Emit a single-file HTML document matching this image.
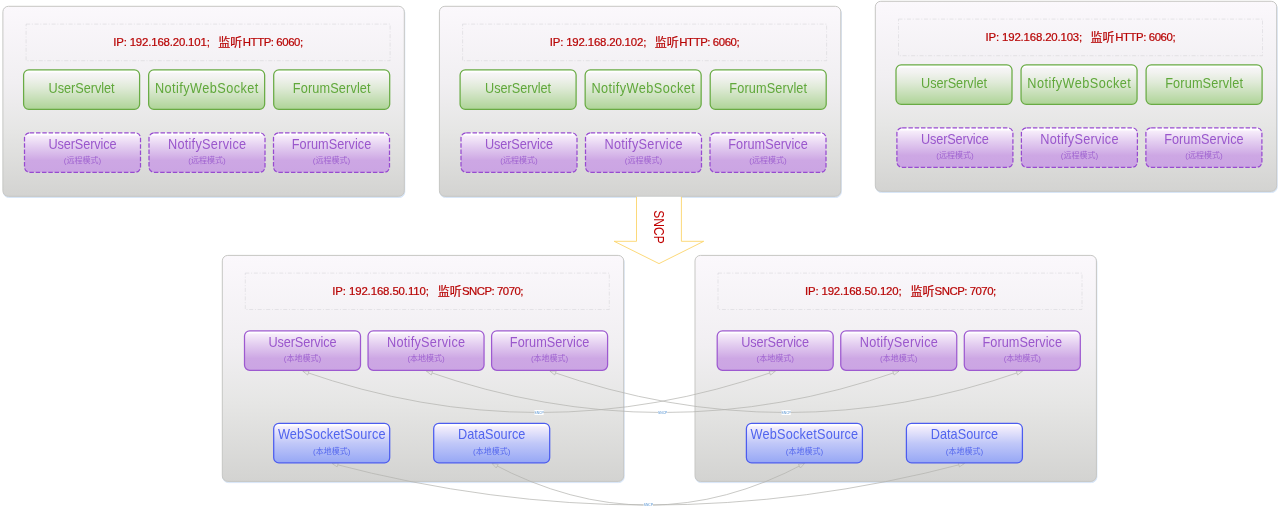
<!DOCTYPE html>
<html lang="zh">
<head>
<meta charset="utf-8">
<title>SNCP</title>
<style>
html,body{margin:0;padding:0;background:#fff;}
body{width:1280px;height:519px;overflow:hidden;}
svg{display:block;will-change:transform;}
text{font-family:"Liberation Sans","Noto Sans CJK SC",sans-serif;}
.sh{fill:#cfe0f6;stroke:#cfe0f6;stroke-width:1;opacity:.8;}
.panel{fill:url(#gp);stroke:#c7c7c4;stroke-width:1;}
.info{fill:none;stroke:#c9c9cf;stroke-opacity:.6;stroke-width:.7;stroke-dasharray:4 1.75 1 1.75;}
.t{fill:#b80606;stroke:#b80606;stroke-width:.22;font-size:11.4px;}
.c{font-size:12px;}
.n{font-size:13.9px;text-anchor:middle;}
.s{font-size:8px;text-anchor:middle;}
.g{fill:url(#gg);stroke:#69ab44;stroke-width:1.25;}
.p{fill:url(#gv);stroke:#9d59d0;stroke-width:1.25;}
.d{stroke:#974bd0;stroke-dasharray:4.5 1.8;}
.b{fill:url(#gb);stroke:#4c5cef;stroke-width:1.25;}
.gt{fill:#60a83b;}
.pt{fill:#9a57cc;}
.ps{fill:#9f63d0;}
.bt{fill:#5164ee;}
.bs{fill:#5669ee;}
.arrow{fill:#fff;stroke:#fcd262;stroke-width:.85;}
.at{fill:#c00000;font-size:14px;}
.ln{fill:none;stroke:#b2b2ae;stroke-width:.7;}
.ah{stroke:#b4b4b0;stroke-width:.7;stroke-linejoin:miter;}
.lb{fill:#fff;}
.lt{fill:#4f8fd0;font-size:3.3px;text-anchor:middle;}
</style>
</head>
<body>
<svg width="1280" height="519" viewBox="0 0 1280 519">
<defs>
<linearGradient id="gp" x1="0" y1="0" x2="0" y2="1"><stop offset="0" stop-color="#fbf8fc"/><stop offset=".4" stop-color="#f1eff2"/><stop offset=".65" stop-color="#e6e6e5"/><stop offset="1" stop-color="#d3d3d1"/></linearGradient>
<linearGradient id="gg" x1="0" y1="0" x2="0" y2="1"><stop offset="0" stop-color="#fff"/><stop offset=".045" stop-color="#fff"/><stop offset=".09" stop-color="#f6f5f6"/><stop offset=".2" stop-color="#f1f2ef"/><stop offset=".45" stop-color="#dfead7"/><stop offset="1" stop-color="#aed497"/></linearGradient>
<linearGradient id="gv" x1="0" y1="0" x2="0" y2="1"><stop offset="0" stop-color="#fff"/><stop offset=".045" stop-color="#fff"/><stop offset=".09" stop-color="#f6ecfa"/><stop offset=".35" stop-color="#e3cdf0"/><stop offset=".7" stop-color="#cda7e4"/><stop offset="1" stop-color="#cba5e3"/></linearGradient>
<linearGradient id="gb" x1="0" y1="0" x2="0" y2="1"><stop offset="0" stop-color="#fff"/><stop offset=".045" stop-color="#fff"/><stop offset=".09" stop-color="#f3eefc"/><stop offset=".5" stop-color="#c1c8f8"/><stop offset="1" stop-color="#96a7f5"/></linearGradient>
</defs>
<rect class="sh" x="3.4" y="7.5" width="401.4" height="190" rx="5.5"/>
<rect class="panel" x="2.9" y="6.3" width="401.4" height="190" rx="5.5"/>
<rect class="info" x="26.1" y="24.1" width="364" height="36.6"/>
<text class="t" x="113.2" y="46.25" textLength="96.6">IP: 192.168.20.101;</text>
<text class="t c" x="218.2" y="46.55">监听</text>
<text class="t" x="242.8" y="46.25" textLength="60.4">HTTP: 6060;</text>
<rect class="sh" x="439.9" y="7.5" width="401.4" height="190" rx="5.5"/>
<rect class="panel" x="439.4" y="6.3" width="401.4" height="190" rx="5.5"/>
<rect class="info" x="462.6" y="24.1" width="364" height="36.6"/>
<text class="t" x="549.7" y="46.25" textLength="96.6">IP: 192.168.20.102;</text>
<text class="t c" x="654.7" y="46.55">监听</text>
<text class="t" x="679.3" y="46.25" textLength="60.4">HTTP: 6060;</text>
<rect class="sh" x="875.8" y="2.5" width="401.4" height="190" rx="5.5"/>
<rect class="panel" x="875.3" y="1.3" width="401.4" height="190" rx="5.5"/>
<rect class="info" x="898.5" y="19.1" width="364" height="36.6"/>
<text class="t" x="985.6" y="41.25" textLength="96.6">IP: 192.168.20.103;</text>
<text class="t c" x="1090.6" y="41.55">监听</text>
<text class="t" x="1115.2" y="41.25" textLength="60.4">HTTP: 6060;</text>
<path class="arrow" d="M636.5 196.8V241.3H614.2L659 263.6L703.7 241.3H681.4V196.8"/>
<text class="at" transform="translate(654.2 210.3) rotate(90) scale(.86 1)">SNCP</text>
<rect class="sh" x="222.8" y="256.6" width="401.4" height="226" rx="5.5"/>
<rect class="panel" x="222.3" y="255.4" width="401.4" height="226" rx="5.5"/>
<rect class="info" x="245.3" y="273.1" width="364" height="36.4"/>
<text class="t" x="332.3" y="295.35" textLength="96.6">IP: 192.168.50.110;</text>
<text class="t c" x="437.8" y="295.65">监听</text>
<text class="t" x="461.9" y="295.35" textLength="61.6">SNCP: 7070;</text>
<rect class="sh" x="695.5" y="256.6" width="401.4" height="226" rx="5.5"/>
<rect class="panel" x="695" y="255.4" width="401.4" height="226" rx="5.5"/>
<rect class="info" x="718" y="273.1" width="364" height="36.4"/>
<text class="t" x="805" y="295.35" textLength="96.6">IP: 192.168.50.120;</text>
<text class="t c" x="910.5" y="295.65">监听</text>
<text class="t" x="934.6" y="295.35" textLength="61.6">SNCP: 7070;</text>
<path class="ln" d="M302.8 371.1Q539.1 453.9 775.4 371.1"/>
<path class="ah" fill="#eaeae9" d="M302.8 371.1L307.67 375.03L309.06 371.07Z"/>
<path class="ah" fill="#eaeae9" d="M775.4 371.1L769.14 371.07L770.53 375.03Z"/>
<rect class="lb" x="534.5" y="410" width="9.1" height="5"/>
<text class="lt" x="539.1" y="413.65">SNCP</text>
<path class="ln" d="M426.4 371.1Q662.7 453.9 899 371.1"/>
<path class="ah" fill="#eaeae9" d="M426.4 371.1L431.27 375.03L432.66 371.07Z"/>
<path class="ah" fill="#eaeae9" d="M899 371.1L892.74 371.07L894.13 375.03Z"/>
<rect class="lb" x="658.1" y="410" width="9.1" height="5"/>
<text class="lt" x="662.7" y="413.65">SNCP</text>
<path class="ln" d="M549.9 371.1Q786.2 453.9 1022.5 371.1"/>
<path class="ah" fill="#eaeae9" d="M549.9 371.1L554.77 375.03L556.16 371.07Z"/>
<path class="ah" fill="#eaeae9" d="M1022.5 371.1L1016.24 371.07L1017.63 375.03Z"/>
<rect class="lb" x="781.6" y="410" width="9.1" height="5"/>
<text class="lt" x="786.2" y="413.65">SNCP</text>
<path class="ln" d="M332 463.4Q648.3 546.8 964.6 463.4"/>
<path class="ah" fill="#d8d8d6" d="M332 463.4L337.17 466.93L338.24 462.87Z"/>
<path class="ah" fill="#d8d8d6" d="M964.6 463.4L958.36 462.87L959.43 466.93Z"/>
<rect class="lb" x="643.7" y="502.6" width="9.1" height="5"/>
<text class="lt" x="648.3" y="506.25">SNCP</text>
<path class="ln" d="M492 463.4Q648.3 546.8 804.6 463.4"/>
<path class="ah" fill="#d8d8d6" d="M492 463.4L496.22 468.03L498.19 464.32Z"/>
<path class="ah" fill="#d8d8d6" d="M804.6 463.4L798.41 464.32L800.38 468.03Z"/>
<rect class="lb" x="643.7" y="502.6" width="9.1" height="5"/>
<text class="lt" x="648.3" y="506.25">SNCP</text>
<rect class="g" x="23.6" y="69.9" width="116" height="39.45" rx="5.2"/>
<text class="n gt" transform="translate(81.6 92.9) scale(0.915 1)" textLength="72.13">UserServlet</text>
<rect class="g" x="148.65" y="69.9" width="116" height="39.45" rx="5.2"/>
<text class="n gt" transform="translate(206.65 92.9) scale(0.915 1)" textLength="113.11">NotifyWebSocket</text>
<rect class="g" x="273.7" y="69.9" width="116" height="39.45" rx="5.2"/>
<text class="n gt" transform="translate(331.7 92.9) scale(0.915 1)" textLength="85.03">ForumServlet</text>
<rect class="p d" x="24.5" y="132.8" width="116" height="39.45" rx="5.2"/>
<text class="n pt" transform="translate(82.5 148.8) scale(0.915 1)" textLength="74.21">UserService</text>
<text class="s ps" x="82.5" y="163.4">(远程模式)</text>
<rect class="p d" x="149" y="132.8" width="116" height="39.45" rx="5.2"/>
<text class="n pt" transform="translate(207 148.8) scale(0.915 1)" textLength="85.46">NotifyService</text>
<text class="s ps" x="207" y="163.4">(远程模式)</text>
<rect class="p d" x="273.5" y="132.8" width="116" height="39.45" rx="5.2"/>
<text class="n pt" transform="translate(331.5 148.8) scale(0.915 1)" textLength="86.89">ForumService</text>
<text class="s ps" x="331.5" y="163.4">(远程模式)</text>
<rect class="g" x="460.1" y="69.9" width="116" height="39.45" rx="5.2"/>
<text class="n gt" transform="translate(518.1 92.9) scale(0.915 1)" textLength="72.13">UserServlet</text>
<rect class="g" x="585.15" y="69.9" width="116" height="39.45" rx="5.2"/>
<text class="n gt" transform="translate(643.15 92.9) scale(0.915 1)" textLength="113.11">NotifyWebSocket</text>
<rect class="g" x="710.2" y="69.9" width="116" height="39.45" rx="5.2"/>
<text class="n gt" transform="translate(768.2 92.9) scale(0.915 1)" textLength="85.03">ForumServlet</text>
<rect class="p d" x="461" y="132.8" width="116" height="39.45" rx="5.2"/>
<text class="n pt" transform="translate(519 148.8) scale(0.915 1)" textLength="74.21">UserService</text>
<text class="s ps" x="519" y="163.4">(远程模式)</text>
<rect class="p d" x="585.5" y="132.8" width="116" height="39.45" rx="5.2"/>
<text class="n pt" transform="translate(643.5 148.8) scale(0.915 1)" textLength="85.46">NotifyService</text>
<text class="s ps" x="643.5" y="163.4">(远程模式)</text>
<rect class="p d" x="710" y="132.8" width="116" height="39.45" rx="5.2"/>
<text class="n pt" transform="translate(768 148.8) scale(0.915 1)" textLength="86.89">ForumService</text>
<text class="s ps" x="768" y="163.4">(远程模式)</text>
<rect class="g" x="896" y="64.9" width="116" height="39.45" rx="5.2"/>
<text class="n gt" transform="translate(954 87.9) scale(0.915 1)" textLength="72.13">UserServlet</text>
<rect class="g" x="1021.05" y="64.9" width="116" height="39.45" rx="5.2"/>
<text class="n gt" transform="translate(1079.05 87.9) scale(0.915 1)" textLength="113.11">NotifyWebSocket</text>
<rect class="g" x="1146.1" y="64.9" width="116" height="39.45" rx="5.2"/>
<text class="n gt" transform="translate(1204.1 87.9) scale(0.915 1)" textLength="85.03">ForumServlet</text>
<rect class="p d" x="896.9" y="127.8" width="116" height="39.45" rx="5.2"/>
<text class="n pt" transform="translate(954.9 143.8) scale(0.915 1)" textLength="74.21">UserService</text>
<text class="s ps" x="954.9" y="158.4">(远程模式)</text>
<rect class="p d" x="1021.4" y="127.8" width="116" height="39.45" rx="5.2"/>
<text class="n pt" transform="translate(1079.4 143.8) scale(0.915 1)" textLength="85.46">NotifyService</text>
<text class="s ps" x="1079.4" y="158.4">(远程模式)</text>
<rect class="p d" x="1145.9" y="127.8" width="116" height="39.45" rx="5.2"/>
<text class="n pt" transform="translate(1203.9 143.8) scale(0.915 1)" textLength="86.89">ForumService</text>
<text class="s ps" x="1203.9" y="158.4">(远程模式)</text>
<rect class="p" x="244.5" y="330.8" width="116" height="39.45" rx="5.2"/>
<text class="n pt" transform="translate(302.5 346.7) scale(0.915 1)" textLength="74.21">UserService</text>
<text class="s ps" x="302.5" y="361.4">(本地模式)</text>
<rect class="p" x="368.05" y="330.8" width="116" height="39.45" rx="5.2"/>
<text class="n pt" transform="translate(426.05 346.7) scale(0.915 1)" textLength="85.46">NotifyService</text>
<text class="s ps" x="426.05" y="361.4">(本地模式)</text>
<rect class="p" x="491.6" y="330.8" width="116" height="39.45" rx="5.2"/>
<text class="n pt" transform="translate(549.6 346.7) scale(0.915 1)" textLength="86.89">ForumService</text>
<text class="s ps" x="549.6" y="361.4">(本地模式)</text>
<rect class="b" x="273.7" y="423.4" width="116" height="39.45" rx="5.2"/>
<text class="n bt" transform="translate(331.7 439) scale(0.915 1)" textLength="117.6">WebSocketSource</text>
<text class="s bs" x="331.7" y="453.8">(本地模式)</text>
<rect class="b" x="433.7" y="423.4" width="116" height="39.45" rx="5.2"/>
<text class="n bt" transform="translate(491.7 439) scale(0.915 1)" textLength="73.66">DataSource</text>
<text class="s bs" x="491.7" y="453.8">(本地模式)</text>
<rect class="p" x="717.2" y="330.8" width="116" height="39.45" rx="5.2"/>
<text class="n pt" transform="translate(775.2 346.7) scale(0.915 1)" textLength="74.21">UserService</text>
<text class="s ps" x="775.2" y="361.4">(本地模式)</text>
<rect class="p" x="840.75" y="330.8" width="116" height="39.45" rx="5.2"/>
<text class="n pt" transform="translate(898.75 346.7) scale(0.915 1)" textLength="85.46">NotifyService</text>
<text class="s ps" x="898.75" y="361.4">(本地模式)</text>
<rect class="p" x="964.3" y="330.8" width="116" height="39.45" rx="5.2"/>
<text class="n pt" transform="translate(1022.3 346.7) scale(0.915 1)" textLength="86.89">ForumService</text>
<text class="s ps" x="1022.3" y="361.4">(本地模式)</text>
<rect class="b" x="746.4" y="423.4" width="116" height="39.45" rx="5.2"/>
<text class="n bt" transform="translate(804.4 439) scale(0.915 1)" textLength="117.6">WebSocketSource</text>
<text class="s bs" x="804.4" y="453.8">(本地模式)</text>
<rect class="b" x="906.4" y="423.4" width="116" height="39.45" rx="5.2"/>
<text class="n bt" transform="translate(964.4 439) scale(0.915 1)" textLength="73.66">DataSource</text>
<text class="s bs" x="964.4" y="453.8">(本地模式)</text>
</svg>
</body>
</html>
